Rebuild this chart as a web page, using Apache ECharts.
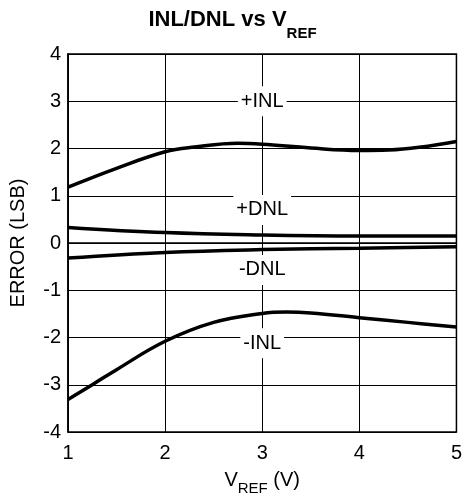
<!DOCTYPE html>
<html>
<head>
<meta charset="utf-8">
<script src="https://cdn.jsdelivr.net/npm/echarts@6/dist/echarts.min.js"></script>
<style>
html,body{margin:0;padding:0;background:#fff;}
#c{width:465px;height:501px;}
</style>
</head>
<body>
<div id="c"></div>
<script>
// Data
var inlPosX = [1, 1.5, 2, 2.3, 2.75, 3, 3.5, 4, 4.3, 5];
var inlPosY = [1.18, 1.58, 1.93, 2.03, 2.11, 2.09, 2.01, 1.96, 1.97, 2.15];
var dnlPosX = [1, 2, 3, 4, 5];
var dnlPosY = [0.33, 0.22, 0.17, 0.15, 0.15];
var dnlNegX = [1, 2, 3, 4, 5];
var dnlNegY = [-0.32, -0.2, -0.14, -0.11, -0.08];
var inlNegX = [1, 1.25, 1.5, 2, 2.5, 3, 3.25, 3.5, 4, 4.5, 5];
var inlNegY = [-3.31, -3.0, -2.68, -2.08, -1.68, -1.49, -1.46, -1.48, -1.58, -1.68, -1.78];
var curveLabels = ['+INL', '+DNL', '-DNL', '-INL'];
var labelX = [3, 3, 3, 3];
var labelY = [3, 0.7, -0.57, -2.12];
var xTicks = [1, 2, 3, 4, 5];
var yTicks = [-4, -3, -2, -1, 0, 1, 2, 3, 4];

function pairs(xs, ys) { return xs.map(function (x, i) { return [x, ys[i]]; }); }

var FONT = 'Liberation Sans, Arial, sans-serif';
var chart = echarts.init(document.getElementById('c'));

function curve(name, xs, ys) {
  return {
    name: name, type: 'line', smooth: 0.4, symbol: 'none',
    data: pairs(xs, ys),
    lineStyle: { color: '#000', width: 3.5 }, z: 3
  };
}

var labelData = curveLabels.map(function (t, i) { return { value: [labelX[i], labelY[i]], name: t }; });

chart.setOption({
  animation: false,
  backgroundColor: '#fff',
  title: {
    text: '{a|INL/DNL vs V}{b|REF}',
    left: 'center', top: 4,
    textStyle: {
      rich: {
        a: { fontFamily: FONT, fontSize: 22, fontWeight: 'bold', color: '#000', lineHeight: 32, verticalAlign: 'top' },
        b: { fontFamily: FONT, fontSize: 15, fontWeight: 'bold', color: '#000', lineHeight: 32, verticalAlign: 'bottom' }
      }
    }
  },
  grid: { left: 68, right: 8, top: 54, bottom: 68, show: true, borderColor: '#000', borderWidth: 1.5, backgroundColor: 'transparent' },
  xAxis: {
    type: 'value', min: xTicks[0], max: xTicks[xTicks.length - 1], interval: 1,
    name: '{a|V}{b|REF}{a| (V)}', nameLocation: 'middle', nameGap: 38,
    nameTextStyle: {
      rich: {
        a: { fontFamily: FONT, fontSize: 20, color: '#000', lineHeight: 26, verticalAlign: 'top' },
        b: { fontFamily: FONT, fontSize: 15, color: '#000', lineHeight: 26, verticalAlign: 'bottom' }
      }
    },
    axisLine: { show: true, lineStyle: { color: '#000', width: 1.5 } },
    axisTick: { show: false },
    axisLabel: { fontFamily: FONT, fontSize: 20, color: '#000', margin: 11 },
    splitLine: { show: true, lineStyle: { color: '#000', width: 1 } }
  },
  yAxis: {
    type: 'value', min: yTicks[0], max: yTicks[yTicks.length - 1], interval: 1,
    name: 'ERROR (LSB)', nameLocation: 'middle', nameGap: 40, nameRotate: 90,
    nameTextStyle: { fontFamily: FONT, fontSize: 20, color: '#000' },
    axisLine: { show: true, lineStyle: { color: '#000', width: 1.5 } },
    axisTick: { show: false },
    axisLabel: { fontFamily: FONT, fontSize: 20, color: '#000', margin: 7 },
    splitLine: { show: true, lineStyle: { color: '#000', width: 1 } }
  },
  series: [
    curve('+INL', inlPosX, inlPosY),
    curve('+DNL', dnlPosX, dnlPosY),
    curve('-DNL', dnlNegX, dnlNegY),
    curve('-INL', inlNegX, inlNegY),
    {
      type: 'scatter', symbolSize: 0, data: labelData, z: 5,
      itemStyle: { opacity: 1 },
      label: {
        show: true, position: 'inside', formatter: '{b}',
        fontFamily: FONT, fontSize: 20, color: '#000', opacity: 1,
        textBorderWidth: 0,
        backgroundColor: '#fff', padding: [5, 3, 5, 3]
      }
    }
  ]
});
</script>
</body>
</html>
